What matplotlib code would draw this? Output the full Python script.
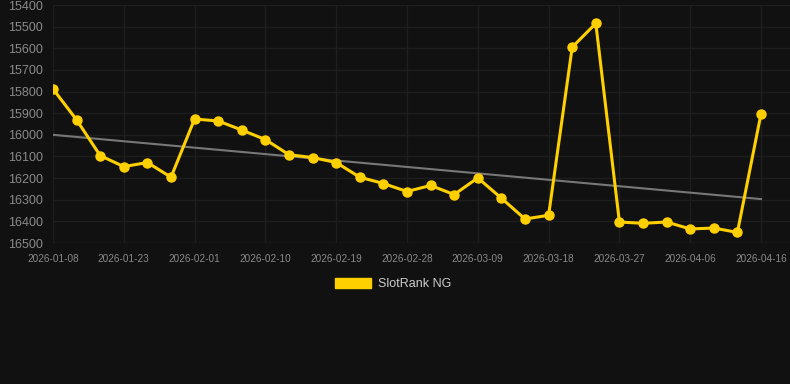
import numpy as np
import matplotlib
matplotlib.use("Agg")
import matplotlib.pyplot as plt
from matplotlib.patches import Patch

plt.rcParams['font.family'] = ['Liberation Sans', 'DejaVu Sans']

# dates of the points (only every 3rd one is labelled)
dates = ["2026-01-08", "2026-01-13", "2026-01-18", "2026-01-23", "2026-01-26",
         "2026-01-29", "2026-02-01", "2026-02-04", "2026-02-07", "2026-02-10",
         "2026-02-13", "2026-02-16", "2026-02-19", "2026-02-22", "2026-02-25",
         "2026-02-28", "2026-03-03", "2026-03-06", "2026-03-09", "2026-03-12",
         "2026-03-15", "2026-03-18", "2026-03-21", "2026-03-24", "2026-03-27",
         "2026-03-30", "2026-04-02", "2026-04-06", "2026-04-09", "2026-04-13",
         "2026-04-16"]
rank = [15788, 15931, 16096, 16147, 16128, 16196, 15927, 15936, 15978, 16022,
        16092, 16105, 16128, 16196, 16225, 16262, 16234, 16276, 16199, 16293,
        16389, 16372, 15595, 15485, 16403, 16409, 16403, 16435, 16431, 16451,
        15903]
trend_ends = [16000, 16297]
yticks = list(range(15400, 16501, 100))
series_name = "SlotRank NG"

bg = "#111111"
yellow = "#ffd000"

x = np.arange(len(rank))

fig = plt.figure(figsize=(7.9, 3.84), dpi=100, facecolor=bg)
ax = fig.add_axes([53 / 790, 141 / 384, 737 / 790, 238 / 384])
ax.set_facecolor(bg)

# trend line
ax.plot([x[0], x[-1]], trend_ends, color="#777777", lw=1.5, zorder=2)
ax.plot(x, rank, color=yellow, lw=2.2, marker="o", ms=6.5, zorder=3)

ax.set_xlim(0, 737 / 708 * 30)
ax.set_ylim(16500, 15400)
ax.set_yticks(yticks)
ax.set_yticklabels([str(v) for v in yticks])
ax.set_xticks(x[::3])
ax.set_xticklabels(dates[::3])

ax.grid(True, color="#1e1e1e", lw=1)
for s in ax.spines.values():
    s.set_visible(False)
ax.tick_params(axis="y", length=0, pad=7, labelsize=9, labelcolor="#8a8a8a")
ax.tick_params(axis="x", length=0, pad=8, labelsize=7.2, labelcolor="#8a8a8a")
ax.axhline(16500, color="#262626", lw=1)

fig.legend(handles=[Patch(color=yellow)], labels=[series_name],
           loc="center", bbox_to_anchor=(393 / 790, 1 - 284 / 384),
           frameon=False, handlelength=2.9, handleheight=0.9,
           handletextpad=0.5, fontsize=9, labelcolor="#cccccc")

fig.savefig("out.png", dpi=100, facecolor=bg)
